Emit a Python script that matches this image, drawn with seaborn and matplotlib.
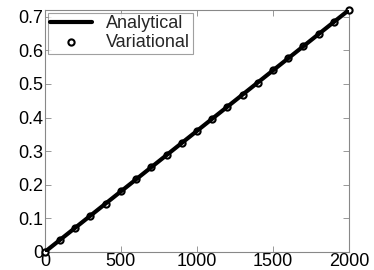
import matplotlib
matplotlib.use("Agg")
import matplotlib.pyplot as plt
import seaborn as sns
import pandas as pd

# data
n_steps = [0, 100, 200, 300, 400, 500, 600, 700, 800, 900, 1000,
           1100, 1200, 1300, 1400, 1500, 1600, 1700, 1800, 1900, 2000]
analytical = [0.0, 0.036, 0.072, 0.108, 0.144, 0.180, 0.216, 0.252, 0.288, 0.324, 0.360,
              0.396, 0.432, 0.468, 0.504, 0.540, 0.576, 0.612, 0.648, 0.684, 0.720]
variational = [0.0, 0.036, 0.072, 0.108, 0.144, 0.180, 0.216, 0.252, 0.288, 0.324, 0.360,
               0.396, 0.432, 0.468, 0.504, 0.540, 0.576, 0.612, 0.648, 0.684, 0.720]

df = pd.DataFrame({"x": n_steps, "Analytical": analytical, "Variational": variational})

sns.set_theme(style="white")
plt.rcParams["font.family"] = ["Liberation Sans", "DejaVu Sans"]

fig, ax = plt.subplots(figsize=(3.74, 2.70), dpi=100)
fig.subplots_adjust(left=0.120, right=0.933, top=0.963, bottom=0.067)

sns.lineplot(data=df, x="x", y="Analytical", ax=ax, color="black", linewidth=3,
             label="Analytical", zorder=4)
sns.scatterplot(data=df, x="x", y="Variational", ax=ax, marker="o", s=20,
                facecolor="white", edgecolor="black", linewidth=1.5,
                label="Variational", zorder=3, clip_on=False)

ax.set_xlim(0, 2000)
ax.set_ylim(0, 0.72)
ax.set_xticks([0, 500, 1000, 1500, 2000])
ax.set_yticks([0, 0.1, 0.2, 0.3, 0.4, 0.5, 0.6, 0.7])
ax.set_yticklabels(["0", "0.1", "0.2", "0.3", "0.4", "0.5", "0.6", "0.7"])
ax.set_xlabel("")
ax.set_ylabel("")

for s in ax.spines.values():
    s.set_color("#888888")
    s.set_linewidth(0.8)
ax.tick_params(direction="in", length=4, width=0.6, colors="#888888",
               labelcolor="black", labelsize=13, top=True, right=True,
               bottom=True, left=True, pad=1)

leg = ax.legend(loc="upper left", fontsize=13, frameon=True, fancybox=False,
                edgecolor="#888888", borderpad=0.15, handlelength=2.3,
                handletextpad=0.8, labelspacing=0.1, borderaxespad=0.15)
leg.get_frame().set_linewidth(0.8)

fig.savefig("out.png", dpi=100)
